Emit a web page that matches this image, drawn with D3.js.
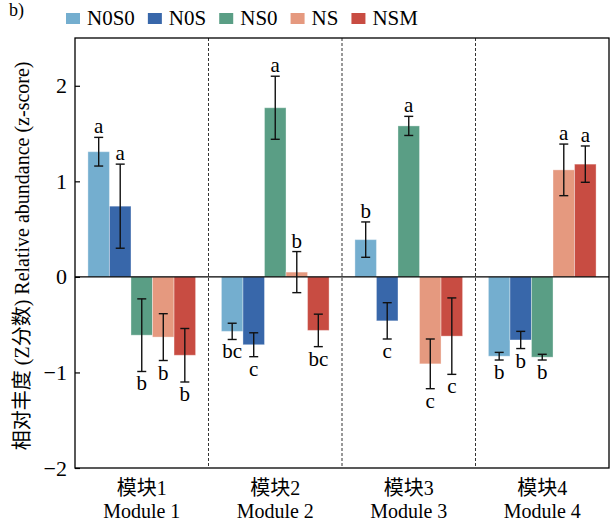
<!DOCTYPE html>
<html>
<head>
<meta charset="utf-8">
<script src="https://cdn.jsdelivr.net/npm/d3@7"></script>
<style>
  body { margin: 0; background: #fff; }
  text { font-family: "Liberation Serif", "Noto Sans CJK SC", serif; fill: #000; }
</style>
</head>
<body>
<div class="chart"></div>
<script>
// data
const modulesZh = ['模块1', '模块2', '模块3', '模块4'];
const modulesEn = ['Module 1', 'Module 2', 'Module 3', 'Module 4'];
const groups = ['N0S0', 'N0S', 'NS0', 'NS', 'NSM'];
const colors = ['#74aecf', '#3867aa', '#5a9e85', '#e5997f', '#c84c42'];

const meanN0S0 = [1.31, -0.57, 0.39, -0.83];
const meanN0S  = [0.74, -0.71, -0.46, -0.66];
const meanNS0  = [-0.61, 1.77, 1.58, -0.84];
const meanNS   = [-0.63, 0.05, -0.91, 1.12];
const meanNSM  = [-0.82, -0.56, -0.62, 1.18];

const errN0S0 = [0.15, 0.085, 0.185, 0.04];
const errN0S  = [0.44, 0.125, 0.19, 0.09];
const errNS0  = [0.38, 0.33, 0.10, 0.03];
const errNS   = [0.245, 0.215, 0.26, 0.27];
const errNSM  = [0.28, 0.17, 0.40, 0.19];

const letN0S0 = ['a', 'bc', 'b', 'b'];
const letN0S  = ['a', 'c', 'c', 'b'];
const letNS0  = ['b', 'a', 'a', 'b'];
const letNS   = ['b', 'b', 'c', 'a'];
const letNSM  = ['b', 'bc', 'c', 'a'];

const yTicks = [-2, -1, 0, 1, 2];

const means = [meanN0S0, meanN0S, meanNS0, meanNS, meanNSM];
const errs = [errN0S0, errN0S, errNS0, errNS, errNSM];
const letters = [letN0S0, letN0S, letNS0, letNS, letNSM];

const W = 610, H = 522;
const margin = {top: 38, right: 1, bottom: 54, left: 75};

const svg = d3.select('.chart').append('svg')
  .attr('width', W).attr('height', H);

const x0 = d3.scaleBand().domain(modulesZh).range([margin.left, W - margin.right]).padding(0);
const x1 = d3.scaleBand().domain(groups).range([0, x0.bandwidth()]).paddingInner(0).paddingOuter(0.6);
const y = d3.scaleLinear().domain([-2, 2.5]).range([H - margin.bottom, margin.top]);

// build rows
const rows = [];
groups.forEach(function(g, gi) {
  modulesZh.forEach(function(m, mi) {
    rows.push({group: g, module: m, mean: means[gi][mi], err: errs[gi][mi], letter: letters[gi][mi], color: colors[gi]});
  });
});

// dashed module dividers
svg.selectAll('.divider').data(modulesZh.slice(1)).enter().append('line')
  .attr('class', 'divider')
  .attr('x1', function(d) { return x0(d); })
  .attr('x2', function(d) { return x0(d); })
  .attr('y1', y(2.5)).attr('y2', y(-2))
  .attr('stroke', '#333').attr('stroke-width', 1).attr('stroke-dasharray', '3,2');

// bars
svg.selectAll('.bar').data(rows).enter().append('rect')
  .attr('class', 'bar')
  .attr('x', function(d) { return x0(d.module) + x1(d.group); })
  .attr('width', x1.bandwidth())
  .attr('y', function(d) { return y(Math.max(0, d.mean)); })
  .attr('height', function(d) { return Math.abs(y(d.mean) - y(0)); })
  .attr('fill', function(d) { return d.color; })
  .attr('stroke', '#fff').attr('stroke-opacity', 0.35).attr('stroke-width', 1);

// zero line
svg.append('line')
  .attr('x1', margin.left).attr('x2', W - margin.right)
  .attr('y1', y(0)).attr('y2', y(0))
  .attr('stroke', '#000').attr('stroke-width', 1.3);

// error bars
const eb = svg.selectAll('.err').data(rows).enter().append('g').attr('class', 'err')
  .attr('transform', function(d) { return 'translate(' + (x0(d.module) + x1(d.group) + x1.bandwidth() / 2) + ',0)'; })
  .attr('stroke', '#111').attr('stroke-width', 1.4);
eb.append('line')
  .attr('y1', function(d) { return y(d.mean + d.err); })
  .attr('y2', function(d) { return y(d.mean - d.err); });
eb.append('line').attr('x1', -4.5).attr('x2', 4.5)
  .attr('y1', function(d) { return y(d.mean + d.err); })
  .attr('y2', function(d) { return y(d.mean + d.err); });
eb.append('line').attr('x1', -4.5).attr('x2', 4.5)
  .attr('y1', function(d) { return y(d.mean - d.err); })
  .attr('y2', function(d) { return y(d.mean - d.err); });

// significance letters
svg.selectAll('.sig').data(rows).enter().append('text')
  .attr('class', 'sig')
  .attr('x', function(d) { return x0(d.module) + x1(d.group) + x1.bandwidth() / 2; })
  .attr('y', function(d) {
    return d.mean >= 0 ? y(d.mean + d.err) - 4 : y(d.mean - d.err) + 19;
  })
  .attr('text-anchor', 'middle')
  .attr('font-size', 21)
  .text(function(d) { return d.letter; });

// frame
svg.append('rect')
  .attr('x', margin.left).attr('y', margin.top)
  .attr('width', W - margin.right - margin.left)
  .attr('height', H - margin.bottom - margin.top)
  .attr('fill', 'none').attr('stroke', '#000').attr('stroke-width', 1.3);

// y axis
const yAxis = svg.append('g')
  .attr('transform', 'translate(' + margin.left + ',0)')
  .call(d3.axisLeft(y).tickValues(yTicks).tickSizeInner(-5).tickSizeOuter(0).tickPadding(8)
    .tickFormat(function(d) { return d < 0 ? '\u2212' + Math.abs(d) : d; }));
yAxis.select('.domain').remove();
yAxis.selectAll('.tick line').attr('stroke', '#000').attr('stroke-width', 1.2);
yAxis.selectAll('.tick text').attr('font-size', 22)
  .style('font-family', '"Liberation Serif", serif').attr('fill', '#000');

// x labels
const xl = svg.selectAll('.xlab').data(modulesZh).enter().append('g').attr('class', 'xlab')
  .attr('transform', function(d) { return 'translate(' + (x0(d) + x0.bandwidth() / 2) + ',0)'; });
xl.append('text').attr('y', 495).attr('text-anchor', 'middle').attr('font-size', 20)
  .text(function(d) { return d; });
xl.append('text').attr('y', 518).attr('text-anchor', 'middle').attr('font-size', 20)
  .text(function(d, i) { return modulesEn[i]; });

// y title
svg.append('text')
  .attr('transform', 'translate(29,' + (y(0.22)) + ') rotate(-90)')
  .attr('text-anchor', 'middle').attr('font-size', 20)
  .text('相对丰度 (Z分数) Relative abundance (z-score)');

// panel tag
svg.append('text').attr('x', 9).attr('y', 16).attr('font-size', 18).text('b)');

// legend
const leg = svg.append('g').attr('transform', 'translate(66,19)');
let lx = 0;
groups.forEach(function(g, i) {
  const item = leg.append('g').attr('transform', 'translate(' + lx + ',0)');
  item.append('rect').attr('x', 0).attr('y', -6).attr('width', 14).attr('height', 11).attr('fill', colors[i]);
  const t = item.append('text').attr('x', 21).attr('y', 6).attr('font-size', 21).text(g);
  lx += 21 + t.node().getComputedTextLength() + 13;
});
</script>
</body>
</html>
